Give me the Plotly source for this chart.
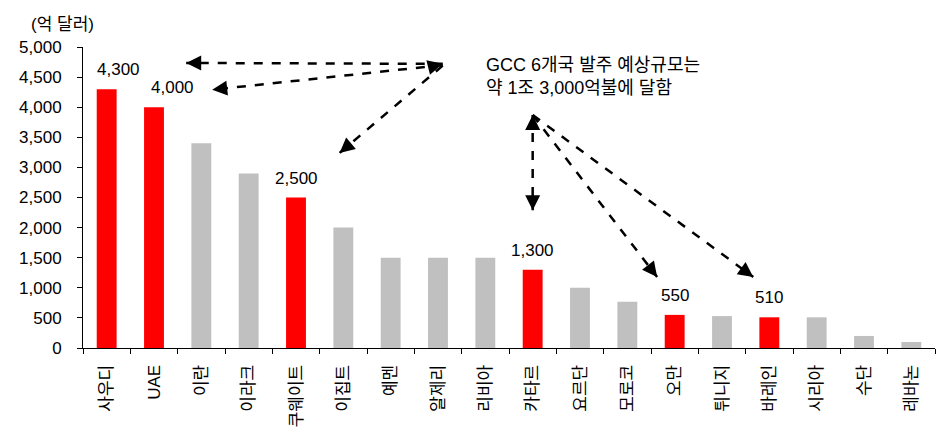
import plotly.graph_objects as go

# 국가별 발주 예상 규모 (억 달러)
countries = ["사우디", "UAE", "이란", "이라크", "쿠웨이트", "이집트", "예멘", "알제리", "리비아",
             "카타르", "요르단", "모로코", "오만", "튀니지", "바레인", "시리아", "수단", "레바논"]
values = [4300, 4000, 3400, 2900, 2500, 2000, 1500, 1500, 1500,
          1300, 1000, 770, 550, 530, 510, 510, 200, 100]
gcc = ["사우디", "UAE", "쿠웨이트", "카타르", "오만", "바레인"]

RED = "#FF0000"
GRAY = "#C0C0C0"
FONT = "Liberation Sans, Noto Sans CJK KR, sans-serif"

colors = [RED if c in gcc else GRAY for c in countries]

fig = go.Figure(go.Bar(
    x=countries, y=values, marker=dict(color=colors, line=dict(width=0)),
    width=0.42, hoverinfo="skip",
))

# GCC 국가 값 레이블 (상단 두 개는 화살표를 피해 오른쪽으로 이동)
label_xshift = {"사우디": 12, "UAE": 18}
annotations = []
for c, v in zip(countries, values):
    if c in gcc:
        annotations.append(dict(x=c, y=v, xref="x", yref="y", text=f"{v:,}",
                                showarrow=False, yanchor="bottom", yshift=8,
                                xshift=label_xshift.get(c, 0),
                                font=dict(size=17, color="black", family=FONT)))

annotations.append(dict(x=-0.063, y=1.075, xref="paper", yref="paper", text="(억 달러)",
                        showarrow=False, xanchor="left", yanchor="middle",
                        font=dict(size=17, color="black", family=FONT)))
annotations.append(dict(x=0.471, y=0.902, xref="paper", yref="paper",
                        text="GCC 6개국 발주 예상규모는<br>약 1조 3,000억불에 달함",
                        showarrow=False, xanchor="left", yanchor="middle", align="left",
                        font=dict(size=18, color="black", family=FONT)))

# 점선 화살표 (시작점 -> 끝점, 데이터 좌표)
arrows = [
    ((7.1, 4720), (1.68, 4735)),
    ((7.1, 4700), (2.23, 4290)),
    ((7.1, 4690), (4.92, 3240)),
    ((9.0, 3870), (9.0, 2290)),
    ((9.0, 3870), (11.63, 1180)),
    ((9.0, 3870), (13.66, 1180)),
]
shapes = []
px_x = 852 / 18
px_y = 301 / 5000
for (x0, y0), (x1, y1) in arrows:
    shapes.append(dict(type="line", xref="x", yref="y", x0=x0, y0=y0, x1=x1, y1=y1,
                       line=dict(color="black", width=2.5, dash="dash")))
    dx = (x1 - x0) * px_x
    dy = -(y1 - y0) * px_y
    n = (dx * dx + dy * dy) ** 0.5
    annotations.append(dict(x=x1, y=y1, xref="x", yref="y", ax=-dx / n * 12, ay=-dy / n * 12,
                            showarrow=True, arrowhead=2, arrowsize=1.2, arrowwidth=2.5,
                            arrowcolor="black", text=""))
# 출발점의 화살촉 (양방향)
annotations.append(dict(x=7.1, y=4720, xref="x", yref="y", ax=-12, ay=3,
                        showarrow=True, arrowhead=2, arrowsize=1.2, arrowwidth=2.5,
                        arrowcolor="black", text=""))
annotations.append(dict(x=9.0, y=3870, xref="x", yref="y", ax=0, ay=12,
                        showarrow=True, arrowhead=2, arrowsize=1.2, arrowwidth=2.5,
                        arrowcolor="black", text=""))

fig.update_layout(
    width=938, height=432,
    margin=dict(l=83, r=3, t=47, b=84),
    paper_bgcolor="white", plot_bgcolor="white",
    font=dict(family=FONT, size=17, color="black"),
    showlegend=False,
    annotations=annotations, shapes=shapes,
    xaxis=dict(type="category", tickangle=-90, showline=True, linecolor="black", linewidth=1,
               ticks="outside", tickson="boundaries", ticklen=5, tickcolor="black",
               showgrid=False, tickfont=dict(size=17, family=FONT), ticklabelstandoff=9,
               range=[-0.5, 17.5]),
    yaxis=dict(range=[0, 5000], dtick=500, tickformat=",", showline=True, linecolor="black",
               linewidth=1, ticks="outside", ticklen=5, tickcolor="black", showgrid=False,
               zeroline=False, tickfont=dict(size=17, family=FONT), ticklabelstandoff=12),
)

fig.write_html("out.html")
